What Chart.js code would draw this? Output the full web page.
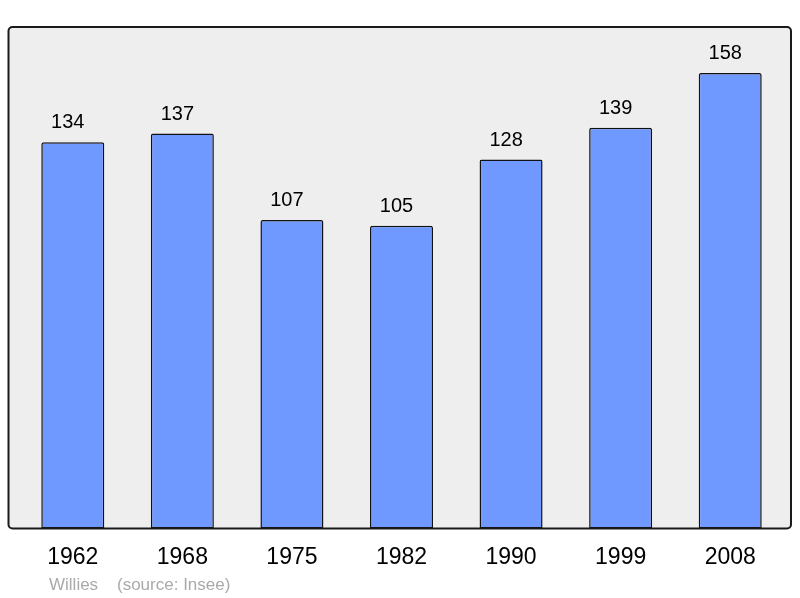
<!DOCTYPE html>
<html>
<head>
<meta charset="utf-8">
<script src="https://cdn.jsdelivr.net/npm/chart.js@4/dist/chart.umd.min.js"></script>
<style>
  html, body { margin: 0; padding: 0; background: #ffffff; }
  #box { width: 800px; height: 598px; }
</style>
</head>
<body>
<div id="box"><canvas id="chart1"></canvas></div>
<script>
var years = ["1962", "1968", "1975", "1982", "1990", "1999", "2008"];
var population = [134, 137, 107, 105, 128, 139, 158];
var sourceText = "Willies    (source: Insee)";

var fontFamily = "'Liberation Sans', Arial, sans-serif";
var barColor = "rgb(112, 153, 255)";

// frame behind the bars, outline drawn after them
var framePlugin = {
    id: "frame",
    beforeDatasetsDraw: function(chart) {
        var a = chart.chartArea;
        var ctx = chart.ctx;
        ctx.save();
        ctx.beginPath();
        ctx.roundRect(a.left - 9.5, a.top, a.right - a.left + 15.5, a.bottom - a.top, 4);
        ctx.fillStyle = "#eeeeee";
        ctx.fill();
        ctx.restore();
    },
    afterDatasetsDraw: function(chart) {
        var a = chart.chartArea;
        var ctx = chart.ctx;
        ctx.save();
        // value labels above bars (sit a little left of bar centre in the original)
        var meta = chart.getDatasetMeta(0);
        ctx.fillStyle = "#000000";
        ctx.font = "20px " + fontFamily;
        ctx.textAlign = "center";
        ctx.textBaseline = "middle";
        meta.data.forEach(function(bar, i) {
            ctx.fillText(String(population[i]), bar.x - 5, bar.y - 19.5);
        });
        // frame outline
        ctx.beginPath();
        ctx.roundRect(a.left - 9.5, a.top, a.right - a.left + 15.5, a.bottom - a.top, 4);
        ctx.lineWidth = 2;
        ctx.strokeStyle = "#1a1a1a";
        ctx.stroke();
        // source line
        ctx.fillStyle = "#aaaaaa";
        ctx.font = "17px " + fontFamily;
        ctx.textAlign = "left";
        ctx.textBaseline = "middle";
        ctx.fillText(sourceText, a.left + 31, 585.5);
        ctx.restore();
    }
};

var ctx = document.getElementById("chart1").getContext("2d");
var chart1 = new Chart(ctx, {
    type: "bar",
    data: {
        labels: years,
        datasets: [{
            data: population,
            backgroundColor: barColor,
            borderColor: "#111111",
            borderWidth: 1.5,
            borderRadius: { topLeft: 2, topRight: 2, bottomLeft: 0, bottomRight: 0 },
            borderSkipped: false,
            barPercentage: 0.575,
            categoryPercentage: 1
        }]
    },
    options: {
        responsive: true,
        maintainAspectRatio: false,
        animation: false,
        layout: { padding: { left: 18, right: 15, top: 27, bottom: 12 } },
        plugins: {
            legend: { display: false },
            tooltip: { enabled: false }
        },
        scales: {
            x: {
                grid: { display: false, drawTicks: false, tickLength: 0 },
                border: { display: false },
                ticks: {
                    color: "#000000",
                    padding: 15,
                    font: { family: fontFamily, size: 23 }
                }
            },
            y: {
                display: false,
                min: 0,
                max: 174
            }
        }
    },
    plugins: [framePlugin]
});
</script>
</body>
</html>
